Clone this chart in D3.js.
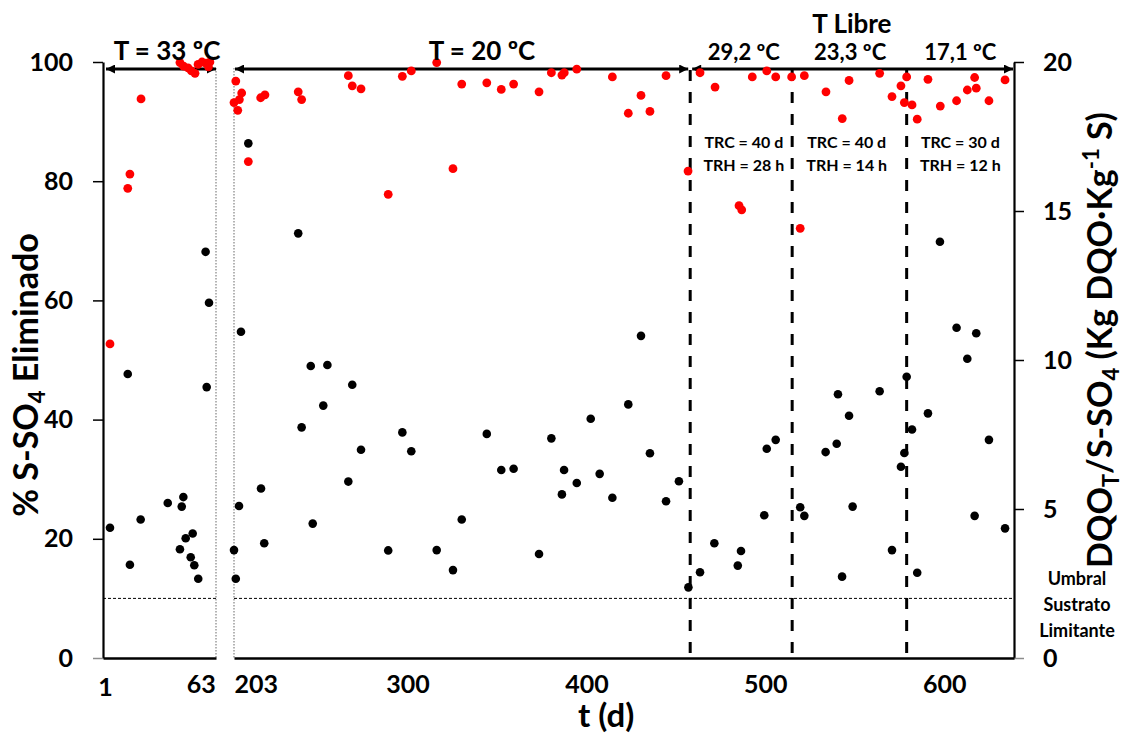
<!DOCTYPE html>
<html>
<head>
<meta charset="utf-8">
<script src="https://cdn.jsdelivr.net/npm/d3@7"></script>
<style>
  html, body { margin: 0; padding: 0; background: #fff; }
  svg { display: block; }
  text { font-family: Lato, "Open Sans", "Liberation Sans", sans-serif; font-weight: bold; fill: #000; }
</style>
</head>
<body>
<svg id="chart" width="1123" height="733"></svg>
<script>
// ---- axis domains and ticks ----
const startPanelDays = [1, 64];        // first run (T = 33 ºC)
const mainPanelDays = [203, 639];      // after the stop
const startDayTicks = [1, 63];
const mainDayTicks = [203, 300, 400, 500, 600];
const pctTicks = [0, 20, 40, 60, 80, 100];
const ratioTicks = [0, 5, 10, 15, 20];

// operating-regime boundaries (days) and the limiting-substrate threshold (DQO/S-SO4)
const regimeBreaks = [458, 515, 579];
const substrateThreshold = 2;

// ---- % S-SO4 removed (left axis) ----
const removalDays = [
  4.9, 14.8, 16.0, 22.2, 43.9, 45.9, 48.4, 50.3, 52.3, 54.0, 56.2, 58.4, 59.8, 60.6,
  204.0, 203.0, 205.1, 206.0, 207.3, 211.0, 217.9, 220.3, 238.9, 240.8, 266.9, 269.1, 274.0,
  289.2, 297.1, 302.1, 316.3, 325.4, 330.3, 344.3, 352.4, 359.3, 373.5, 380.4, 386.3, 387.6,
  394.6, 414.5, 423.4, 430.5, 435.5, 444.5, 456.8, 463.5, 471.9, 485.3, 486.8, 492.7, 500.8,
  505.8, 514.7, 519.5, 521.8, 533.9, 543.0, 546.8, 563.9, 570.8, 575.8, 577.7, 579.0, 582.0,
  584.9, 590.9, 597.8, 606.9, 612.9, 617.0, 617.9, 625.0, 634.0
];
const removalPct = [
  52.7, 78.8, 81.2, 93.8, 99.9, 99.3, 99.0, 98.5, 98.1, 99.6, 100, 99.8, 99.2, 100,
  96.8, 93.2, 91.9, 93.7, 94.8, 83.3, 94.0, 94.5, 95.0, 93.7, 97.7, 96.0, 95.5,
  77.8, 97.6, 98.5, 99.9, 82.1, 96.3, 96.5, 95.4, 96.3, 95.0, 98.2, 97.8, 98.2,
  98.8, 97.5, 91.4, 94.4, 91.7, 97.7, 81.7, 98.2, 95.8, 75.9, 75.2, 97.5, 98.5,
  97.5, 97.5, 72.1, 97.7, 95.0, 90.5, 96.9, 98.1, 94.2, 96.0, 93.2, 97.5, 92.8,
  90.4, 97.1, 92.6, 93.5, 95.3, 97.4, 95.6, 93.5, 97.0
];

// ---- DQO_T / S-SO4 ratio (right axis) ----
const ratioDays = [
  4.9, 14.8, 16.0, 22.0, 37.1, 43.9, 44.9, 45.8, 47.1, 49.9, 51.0, 51.9, 54.1, 58.2, 58.8, 60.1,
  203.0, 204.0, 205.8, 206.9, 211.0, 218.1, 219.9, 238.9, 240.8, 245.9, 247.0, 252.9, 255.2,
  266.9, 269.1, 274.0, 289.2, 297.1, 302.1, 316.3, 325.4, 330.3, 344.3, 352.4, 359.3, 373.5,
  380.4, 386.3, 387.5, 394.6, 402.4, 407.4, 414.5, 423.4, 430.5, 435.5, 444.5, 451.7, 457.0,
  463.5, 471.5, 484.6, 486.4, 499.4, 500.8, 505.8, 519.5, 521.8, 533.7, 539.9, 540.6, 542.9,
  546.8, 548.8, 563.9, 570.8, 575.8, 577.7, 579.0, 582.0, 584.9, 590.9, 597.6, 606.9, 612.9,
  617.0, 617.9, 625.0, 634.0
];
const ratioValues = [
  4.37, 9.53, 3.13, 4.65, 5.20, 3.65, 5.08, 5.40, 4.02, 3.38, 4.18, 3.11, 2.66, 13.63, 9.09, 11.92,
  3.62, 2.66, 5.10, 10.95, 17.27, 5.69, 3.85, 14.25, 7.74, 9.80, 4.51, 8.47, 9.83,
  5.92, 9.17, 6.99, 3.61, 7.57, 6.94, 3.62, 2.95, 4.65, 7.52, 6.31, 6.35, 3.49,
  7.37, 5.49, 6.31, 5.87, 8.03, 6.18, 5.38, 8.51, 10.81, 6.87, 5.26, 5.93, 2.37,
  2.88, 3.85, 3.10, 3.59, 4.79, 7.02, 7.32, 5.06, 4.77, 6.91, 7.19, 8.85, 2.73,
  8.13, 5.08, 8.95, 3.62, 6.42, 6.88, 9.44, 7.67, 2.86, 8.21, 13.97, 11.08, 10.04,
  4.77, 10.90, 7.32, 4.35
];

// ---- annotations ----
const runLabels = [
  { text: "T = 33 ºC", day: 36.7, size: 26, y: 60 },
  { text: "T = 20 ºC", day: 341.6, size: 26, y: 60 },
  { text: "29,2 ºC", day: 488, size: 22, y: 60 },
  { text: "23,3 ºC", day: 547.4, size: 22, y: 60 },
  { text: "17,1 ºC", day: 609, size: 22, y: 60 },
  { text: "T Libre", day: 548.4, size: 26, y: 33 }
];
const retentionLabels = [
  { day: 488, trc: "TRC = 40 d", trh: "TRH = 28 h" },
  { day: 545.5, trc: "TRC = 40 d", trh: "TRH = 14 h" },
  { day: 609, trc: "TRC = 30 d", trh: "TRH = 12 h" }
];
const thresholdLabel = ["Umbral", "Sustrato", "Limitante"];

// ---- layout ----
const svg = d3.select("#chart");
const yTop = 62, yBottom = 658, arrowY = 69;

const yPct = d3.scaleLinear().domain([0, 100]).range([yBottom, yTop]);
const yRatio = d3.scaleLinear().domain([0, 20]).range([yBottom, yTop]);
const xStart = d3.scaleLinear().domain(startPanelDays).range([103, 216]);
const xMain = d3.scaleLinear().domain(mainPanelDays).range([234, 1014]);
const xOf = d => d <= startPanelDays[1] ? xStart(d) : xMain(d);

svg.append("rect").attr("width", 1123).attr("height", 733).attr("fill", "#fff");

const defs = svg.append("defs");
defs.append("marker")
  .attr("id", "head")
  .attr("viewBox", "0 0 10 10")
  .attr("refX", 10).attr("refY", 5)
  .attr("markerWidth", 10).attr("markerHeight", 9)
  .attr("markerUnits", "userSpaceOnUse")
  .attr("orient", "auto-start-reverse")
  .append("path").attr("d", "M0,0L10,5L0,10Z").attr("fill", "#000");

// grey dotted edges of the axis break
[xStart.range()[1], xMain.range()[0]].forEach(x => {
  svg.append("line")
    .attr("x1", x).attr("x2", x).attr("y1", arrowY - 1).attr("y2", yBottom)
    .attr("stroke", "#8c8c8c").attr("stroke-width", 1.3).attr("stroke-dasharray", "1.5,1.5");
});

// limiting-substrate threshold
[xStart, xMain].forEach(sc => {
  svg.append("line")
    .attr("x1", sc.range()[0]).attr("x2", sc.range()[1])
    .attr("y1", yRatio(substrateThreshold)).attr("y2", yRatio(substrateThreshold))
    .attr("stroke", "#000").attr("stroke-width", 1).attr("stroke-dasharray", "3,2");
});

// regime change lines
svg.selectAll("line.regime").data(regimeBreaks).join("line")
  .attr("class", "regime")
  .attr("x1", d => xMain(d)).attr("x2", d => xMain(d))
  .attr("y1", arrowY + 1).attr("y2", yBottom)
  .attr("stroke", "#000").attr("stroke-width", 3).attr("stroke-dasharray", "11,11");

// double-headed period arrows
const arrows = [
  [xStart(startPanelDays[0]) + 3, xStart(startPanelDays[1])],
  [xMain(mainPanelDays[0]) + 1, xMain(regimeBreaks[0]) - 2],
  [xMain(regimeBreaks[0]) + 2, xMain(mainPanelDays[1]) - 1]
];
svg.selectAll("line.period").data(arrows).join("line")
  .attr("class", "period")
  .attr("x1", d => d[0]).attr("x2", d => d[1])
  .attr("y1", arrowY).attr("y2", arrowY)
  .attr("stroke", "#000").attr("stroke-width", 3)
  .attr("marker-start", "url(#head)").attr("marker-end", "url(#head)");

// ---- axes ----
function styleAxis(g) {
  g.attr("font-family", null).attr("font-size", null);
  g.selectAll("text").attr("fill", "#000").attr("font-size", 25);
}

const axL = svg.append("g").attr("transform", `translate(${xStart.range()[0]},0)`)
  .call(d3.axisLeft(yPct).tickValues(pctTicks).tickSize(10).tickSizeOuter(0).tickPadding(20));
styleAxis(axL);
axL.select(".domain").attr("stroke", "#000").attr("stroke-width", 2.2);
axL.selectAll(".tick line").attr("stroke", d => d === 0 ? "#8c8c8c" : "#000").attr("stroke-width", 1.5);

const axR = svg.append("g").attr("transform", `translate(${xMain.range()[1]},0)`)
  .call(d3.axisRight(yRatio).tickValues(ratioTicks).tickSize(10).tickSizeOuter(0).tickPadding(19));
styleAxis(axR);
axR.select(".domain").attr("stroke", "#000").attr("stroke-width", 2.2);
axR.selectAll(".tick line").attr("stroke", d => d === 0 ? "#8c8c8c" : "#000").attr("stroke-width", 1.5);

const axB1 = svg.append("g").attr("transform", `translate(0,${yBottom})`)
  .call(d3.axisBottom(xStart).tickValues(startDayTicks).tickSize(0).tickSizeOuter(0).tickFormat(d3.format("d")));
const axB2 = svg.append("g").attr("transform", `translate(0,${yBottom})`)
  .call(d3.axisBottom(xMain).tickValues(mainDayTicks).tickSize(0).tickSizeOuter(0).tickFormat(d3.format("d")));
[axB1, axB2].forEach(g => {
  styleAxis(g);
  g.select(".domain").attr("stroke", "#000").attr("stroke-width", 2.5);
  g.selectAll(".tick text").attr("dy", null).attr("y", 35);
});
axB1.selectAll(".tick text")
  .attr("text-anchor", d => d === startDayTicks[1] ? "end" : "middle")
  .attr("x", d => d === startDayTicks[0] ? 2 : 1)
  .attr("y", d => d === startDayTicks[0] ? 38 : 35);
axB2.selectAll(".tick text")
  .attr("text-anchor", d => d === mainDayTicks[0] ? "start" : "middle");

// ---- points ----
const ratioPts = ratioDays.map((d, i) => ({ day: d, v: ratioValues[i] }));
const removalPts = removalDays.map((d, i) => ({ day: d, v: removalPct[i] }));

svg.append("g").selectAll("circle").data(ratioPts).join("circle")
  .attr("cx", d => xOf(d.day)).attr("cy", d => yRatio(d.v)).attr("r", 4.3)
  .attr("fill", "#000");

svg.append("g").selectAll("circle").data(removalPts).join("circle")
  .attr("cx", d => xOf(d.day)).attr("cy", d => yPct(d.v)).attr("r", 4.4)
  .attr("fill", "#ff0000");

// ---- annotation text ----
svg.selectAll("text.run").data(runLabels).join("text")
  .attr("class", "run")
  .attr("x", d => d.day <= startPanelDays[1] ? xStart(d.day) : xMain(d.day))
  .attr("y", d => d.y)
  .attr("text-anchor", "middle")
  .attr("font-size", d => d.size)
  .text(d => d.text);

retentionLabels.forEach(d => {
  const g = svg.append("text").attr("text-anchor", "middle").attr("font-size", 16);
  g.append("tspan").attr("x", xMain(d.day)).attr("y", 148).text(d.trc);
  g.append("tspan").attr("x", xMain(d.day)).attr("y", 171).text(d.trh);
});

const thr = svg.append("text").attr("text-anchor", "middle").attr("font-size", 18).attr("fill", "#1a1a1a");
thresholdLabel.forEach((t, i) => {
  thr.append("tspan").attr("x", 1077).attr("y", 585 + i * 26).text(t);
});

// ---- axis titles (sub/superscripts shifted in pixels) ----
const leftTitle = svg.append("text")
  .attr("transform", "translate(38,375) rotate(-90)")
  .attr("text-anchor", "middle").attr("font-size", 34);
leftTitle.append("tspan").text("% S-SO");
leftTitle.append("tspan").attr("font-size", 22).attr("dy", 7).text("4");
leftTitle.append("tspan").attr("dy", -7).text(" Eliminado");

const rightTitle = svg.append("text")
  .attr("transform", "translate(1112,340) rotate(-90)")
  .attr("text-anchor", "middle").attr("font-size", 34);
rightTitle.append("tspan").text("DQO");
rightTitle.append("tspan").attr("font-size", 22).attr("dy", 7).text("T");
rightTitle.append("tspan").attr("dy", -7).text("/S-SO");
rightTitle.append("tspan").attr("font-size", 22).attr("dy", 7).text("4");
rightTitle.append("tspan").attr("dy", -7).text(" (Kg DQO·Kg");
rightTitle.append("tspan").attr("font-size", 22).attr("dy", -13).text("-1");
rightTitle.append("tspan").attr("dy", 13).text(" S)");

svg.append("text")
  .attr("x", xMain(411)).attr("y", 727)
  .attr("text-anchor", "middle").attr("font-size", 33)
  .text("t (d)");
</script>
</body>
</html>
